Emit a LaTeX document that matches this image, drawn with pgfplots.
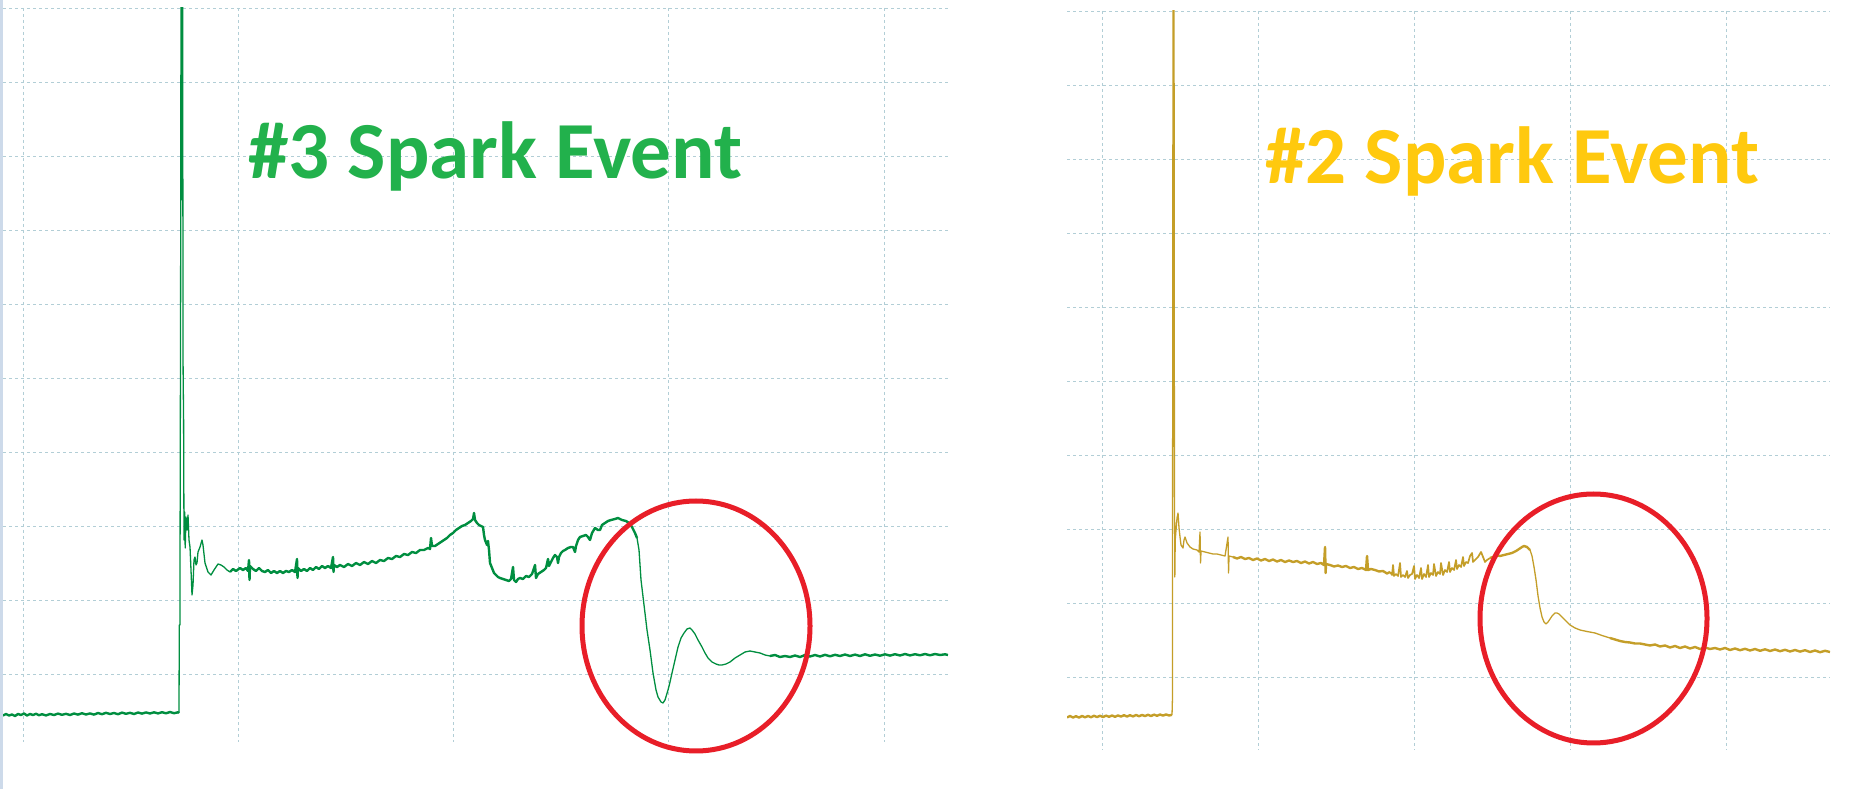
\documentclass[border=0pt]{standalone}
\usepackage{pgfplots}
\pgfplotsset{compat=1.18}
\usepackage{fontspec}
\newfontfamily\carl{Carlito}
\definecolor{gridc}{RGB}{178,206,214}
\definecolor{trgreen}{RGB}{0,142,64}
\definecolor{trgold}{RGB}{196,158,40}
\definecolor{txgreen}{RGB}{34,177,76}
\definecolor{txgold}{RGB}{255,201,14}
\definecolor{ringred}{RGB}{232,30,40}
\definecolor{edgeblue}{RGB}{205,218,234}
\pgfplotsset{
  scopeplot/.style={
    scale only axis,
    anchor=south west,
    y dir=reverse,
    axis line style={draw=none},
    tick style={draw=none},
    xticklabels={}, yticklabels={},
    grid=major,
    major grid style={dash pattern=on 3bp off 3bp, color=gridc, line width=0.9bp},
    clip=true,
  },
  thick trace/.style={line width=2.4bp, line join=round},
  mid trace/.style={line width=1.7bp, line join=round},
  thin trace/.style={line width=1.3bp, line join=round},
}
\begin{document}
\begin{tikzpicture}[x=1bp,y=1bp]
\path[use as bounding box] (0,0) rectangle (1867,789);
\fill[white] (0,0) rectangle (1867,789);
\draw[edgeblue, line width=3bp] (1.5,0) -- (1.5,789);
% ---------------- left panel (#3) ----------------
\begin{axis}[scopeplot, at={(3bp,47bp)}, width=945bp, height=734bp,
  xmin=3, xmax=948, ymin=8, ymax=742,
  xtick={23,238.25,453.5,668.75,884},
  ytick={8,82,156,230,304,378,452,526,600,674}]
\addplot[trgreen, thick trace] coordinates {
(3,715.5)(6,714)(9,715.5)(12,714.5)(15,716)(18,714)(21,715)(24,713.5)(27,715.5)(30,714)
(33,715)(36,713.8)(39,715.2)(42,714.2)(46,715.4)(50,714)(54,715)(58,713.6)(62,714.8)(66,713.8)
(70,715)(74,713.5)(78,714.6)(82,713.2)(86,714.5)(90,713.4)(94,714.6)(98,713)(102,714.2)(106,712.8)
(110,714)(114,713)(118,714.2)(122,712.6)(126,713.8)(130,712.8)(134,714)(138,712.5)(142,713.6)(146,712.4)
(150,713.5)(154,712.3)(158,713.4)(162,712.2)(166,713.3)(170,712)(174,713.2)(178,712.3)(179,713)};
\addplot[trgreen, thin trace] coordinates {
(179,713)(179.3,625)(179.9,625)(180.6,300)(181,-5)(181.8,-5)(182.2,200)(182.6,-5)(183.1,370)(183.6,420)
(184,540)(184.6,512)(185.2,548)(186,517)(187,530)(188,515)(189,540)(190,547)(191,570)(192,595)
(193,585)(194,560)(195,557)(196,565)(197,563)(198,552)(200,547)(202,540)(203,545)(205,563)
(208,572)(211,575)(214,570)(218,564)(221,565)(224,567)(227,570)(230,572)};
\addplot[trgreen, thick trace] coordinates {
(230,572)(233,569)(236,571)(240,568)(243,570)(246,568)(248,571)(249,560)(249.5,580)(250,566)
(253,569)(256,571)(259,568)(262,571)(265,572)(268,570)(271,573)(274,571)(277,573)(280,571)
(283,573)(286,571)(289,572)(292,570)(295,572)(297,559)(297.5,578)(298,568)(301,571)(304,569)
(307,571)(310,568)(313,570)(316,567)(319,569)(322,566)(325,568)(328,566)(331,568)(333,557)
(333.5,572)(334,565)(337,567)(340,565)(344,567)(348,564)(352,566)(356,563)(360,565)(364,562)
(368,564)(372,561)(376,563)(380,560)(384,561)(388,558)(392,559)(396,556)(400,557)(404,554)
(408,555)(412,552)(416,553)(420,550)(424,550)(428,548)(430,549)(431,538)(432,546)(435,546)
(438,544)(441,542)(444,540)(447,538)(450,535)(453,533)(456,530)(459,528)(462,526)(465,525)
(468,523)(471,521)(473,519)(474,513)(475,520)(477,523)(479,525)(481,526)(483,527)(484,535)
(485,540)(487,545)(488,541)(489,550)(490,563)(492,568)(494,573)(496,575)(498,577)(500,578)
(503,579)(506,580)(509,581)(511,579)(513,567)(514,580)(516,582)(518,579)(520,578)(523,579)
(526,576)(529,577)(532,574)(535,565)(536,578)(538,574)(541,572)(544,570)(546,568)(548,559)
(549,566)(551,562)(553,558)(555,555)(557,557)(558,563)(559,557)(561,553)(563,551)(565,550)
(568,548)(571,547)(573,547)(575,552)(576,546)(578,540)(580,537)(583,536)(586,535)(588,537)
(590,540)(592,533)(595,528)(598,530)(600,530)(602,525)(605,523)(608,521)(611,520)(615,519)
(618,518)(622,520)(626,521)(629,523)(632,527)(635,533)(637,538)};
\addplot[trgreen, thin trace] coordinates {
(637,538)(639,550)(641,580)(644,605)(647,630)(650,650)(653,673)(656,690)(658,697)(661,702)
(663,703)(665,700)(668,690)(670,682)(672,673)(675,660)(678,647)(681,638)(684,633)(687,629)
(690,628)(692,630)(695,634)(698,640)(702,647)(705,653)(708,658)(712,662)(716,664)(719,665)
(722,665)(726,664)(730,662)(735,658)(740,655)(745,652)(750,651)(755,652)(760,653)(765,655)(770,656)};
\addplot[trgreen, thick trace] coordinates {
(770,656)(775,655)(780,657)(785,656)(790,657)(795,655.5)(800,657)(805,655)(810,656.5)(815,655)
(820,656.5)(825,654.8)(830,656.3)(835,654.8)(840,656)(845,654.5)(850,656)(855,654.6)(860,656)(865,654.3)
(870,655.8)(875,654.5)(880,655.7)(885,654.3)(890,655.6)(895,654.2)(900,655.5)(905,654)(910,655.4)(915,654.2)
(920,655.3)(925,654)(930,655.3)(935,654)(940,655)(945,654.3)(948,655)};
\end{axis}
% ---------------- right panel (#2) ----------------
\begin{axis}[scopeplot, at={(1067bp,39bp)}, width=763bp, height=739bp,
  xmin=1067, xmax=1830, ymin=11, ymax=750,
  xtick={1102,1258,1414,1570,1726},
  ytick={11,85,159,233,307,381,455,529,603,677}]
\addplot[trgold, thick trace] coordinates {
(1067,717.5)(1070,716)(1073,717.5)(1076,716.2)(1079,717.6)(1082,716)(1085,717.3)(1088,716)(1091,717.2)(1094,715.8)
(1097,717)(1100,715.8)(1103,717)(1106,715.6)(1109,716.8)(1112,715.5)(1115,716.8)(1118,715.4)(1121,716.6)(1124,715.2)
(1127,716.5)(1130,715.2)(1133,716.4)(1136,715)(1139,716.2)(1142,715)(1145,716)(1148,714.8)(1151,716)(1154,714.6)
(1157,715.8)(1160,714.5)(1163,715.6)(1166,714.4)(1169,715.5)(1172,714.8)};
\addplot[trgold, thin trace] coordinates {
(1172,714.8)(1172.4,700)(1173,-5)(1173.5,65)(1174,-5)(1174.4,480)(1174.8,577)(1175.2,540)(1176,530)(1177,518)
(1178,513)(1179,528)(1180,537)(1181,545)(1183,548)(1184,540)(1185,537)(1187,543)(1190,547)(1193,549)
(1197,550)(1199,552)(1200,532)(1200.5,563)(1201,551)(1205,552)(1209,553)(1213,554)(1217,554)(1221,555)
(1225,556)(1228,537)(1228.5,573)(1229,556)(1233,557)};
\addplot[trgold, thick trace] coordinates {
(1233,557)(1237,558.5)(1241,557)(1245,559)(1249,558)(1253,560)(1257,558.5)(1261,560.5)(1265,559)(1269,561)
(1273,559.5)(1277,561.5)(1281,560)(1285,562)(1289,560.5)(1293,562)(1297,561)(1301,563)(1305,561.5)(1309,563.5)
(1313,562)(1317,564)(1321,563)(1324,565)(1325,547)(1325.6,573)(1326,564)(1330,565)(1334,566.5)(1338,565.5)
(1342,567)(1346,566)(1350,568)(1354,567)(1358,569)(1362,568)(1366,570)(1367,556)(1368,570)(1371,569)
(1375,570)(1379,571.5)(1383,571)(1387,573.5)(1390,572)};
\addplot[trgold, mid trace] coordinates {
(1390,572)(1392,575)(1393,565)(1394,576)(1396,574)(1398,576)(1400,563)(1401,577)(1403,575)(1405,577)
(1407,571)(1408,578)(1410,575)(1412,574)(1414,566)(1415,579)(1417,575)(1419,578)(1421,568)(1422,579)
(1424,574)(1426,577)(1428,565)(1429,577)(1431,573)(1433,575)(1434,564)(1436,576)(1438,572)(1440,574)
(1441,563)(1443,575)(1445,570)(1447,572)(1449,562)(1450,572)(1452,568)(1454,570)(1456,560)(1457,569)
(1459,565)(1461,567)(1463,557)(1464,566)(1466,562)(1468,563)(1470,556)(1472,553)(1473,562)(1475,560)
(1478,557)(1481,552)(1483,557)(1485,562)(1487,560)(1490,558)};
\addplot[trgold, thick trace] coordinates {
(1490,558)(1493,557)(1496,555)(1500,556)(1504,555)(1508,554)(1512,553)(1516,551)(1519,549)(1522,547)
(1524,546)(1527,547)(1530,550)};
\addplot[trgold, thin trace] coordinates {
(1530,550)(1532,556)(1534,567)(1536,580)(1538,596)(1540,608)(1542,617)(1544,622)(1546,624)(1548,622)
(1550,619)(1552,616)(1555,613)(1557,613)(1559,614)(1561,616)(1563,618)(1566,621)(1570,625)(1575,628)
(1580,630)(1587,631.5)(1595,633)(1602,635.5)(1610,638)};
\addplot[trgold, thick trace] coordinates {
(1610,638)(1615,639.5)(1620,641)(1625,642)(1630,642.5)(1635,643.5)(1640,643.5)(1645,644.5)(1650,645.5)(1655,644.5)
(1660,646.5)(1665,645.5)(1670,647.5)(1675,646)(1680,648)(1685,646.5)(1690,648.5)(1695,647)(1700,649)(1705,647.5)
(1710,649)(1715,648)(1720,649.5)(1725,648)(1730,650)(1735,648.5)(1740,650.2)(1745,648.8)(1750,650.5)(1755,649)
(1760,650.8)(1765,649.3)(1770,651)(1775,649.5)(1780,651.2)(1785,649.8)(1790,651.5)(1795,650)(1800,651.6)(1805,650.2)
(1810,652)(1815,650.5)(1820,652.2)(1825,650.8)(1830,652)};
\end{axis}
% ---------------- annotations ----------------
\node[anchor=base west, inner sep=0pt, text=txgreen, font={\carl\bfseries\fontsize{81bp}{82bp}\selectfont}]
  at (248,610) {\#3 Spark Event};
\node[anchor=base west, inner sep=0pt, text=txgold, font={\carl\bfseries\fontsize{81bp}{82bp}\selectfont}]
  at (1265,605) {\#2 Spark Event};
\draw[ringred, line width=5bp] (696,163) ellipse [x radius=114, y radius=125];
\draw[ringred, line width=5bp] (1593.5,170.5) ellipse [x radius=113.5, y radius=124.5];
\end{tikzpicture}
\end{document}
